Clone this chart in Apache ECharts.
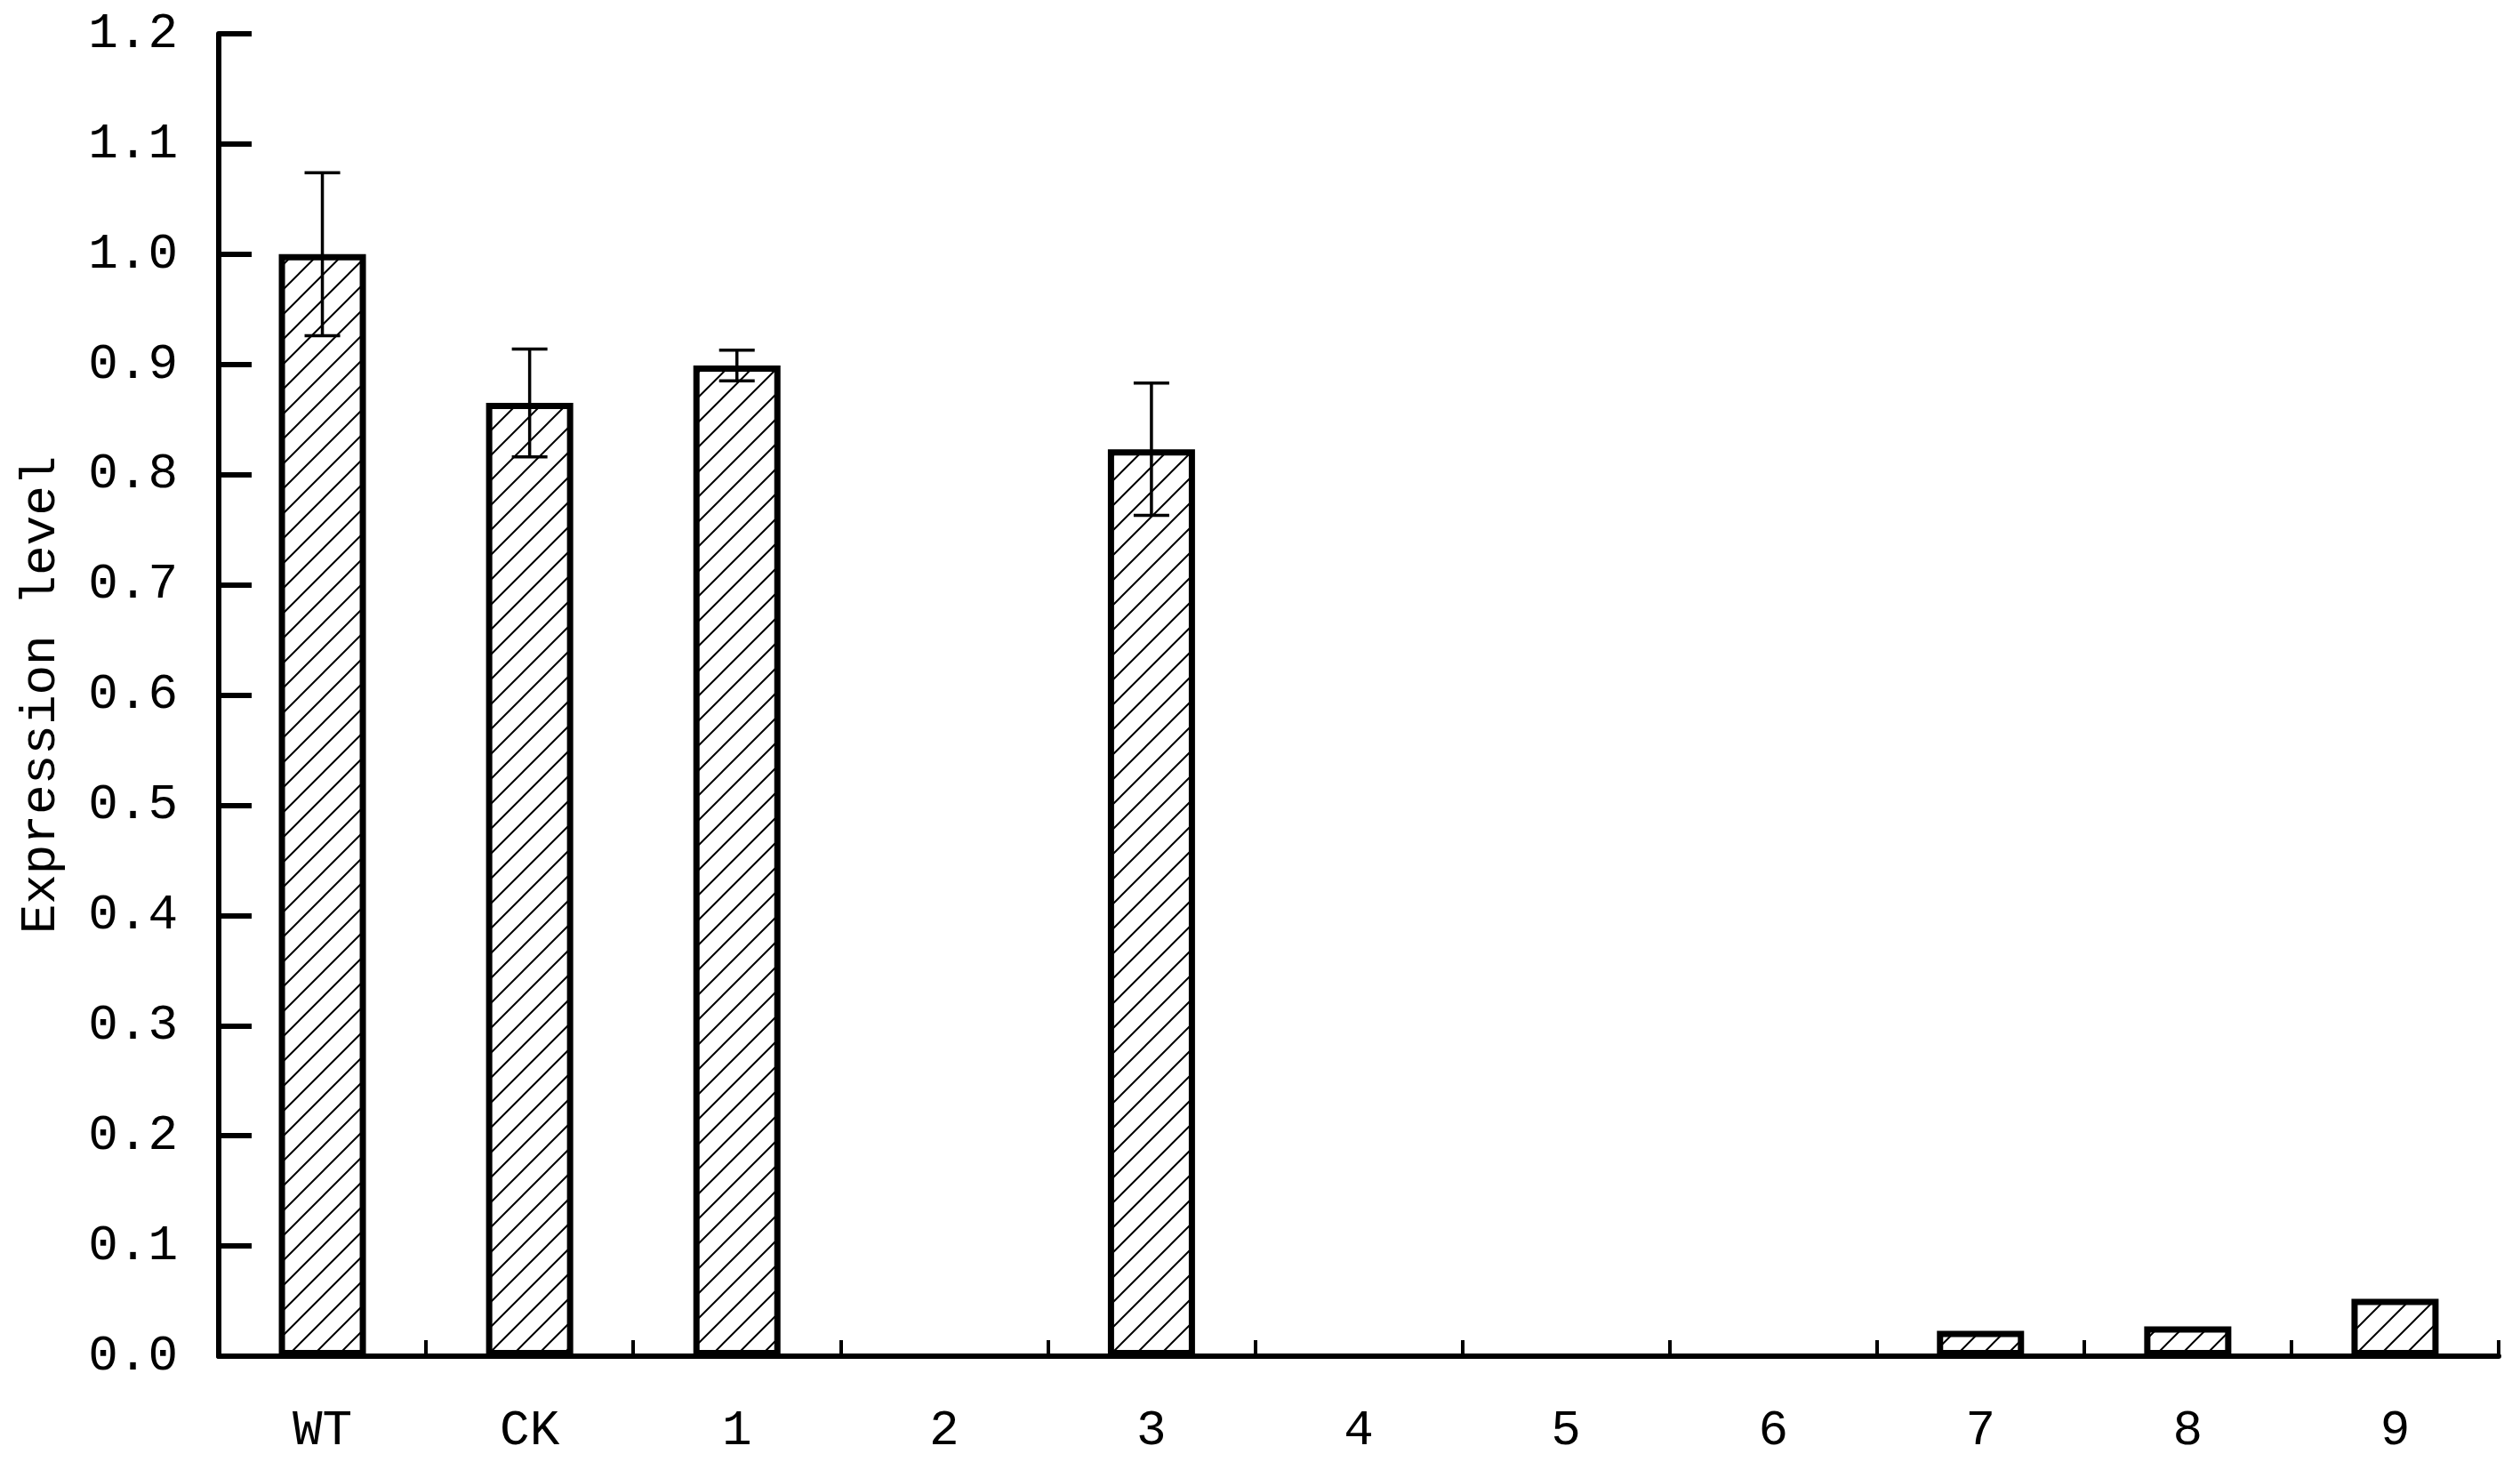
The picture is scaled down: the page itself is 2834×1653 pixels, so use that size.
<!DOCTYPE html>
<html>
<head>
<meta charset="utf-8">
<script src="https://cdn.jsdelivr.net/npm/echarts@6/dist/echarts.min.js"></script>
<style>
  html, body { margin: 0; padding: 0; background: #fff; }
  #chart { width: 2834px; height: 1653px; }
</style>
</head>
<body>
<div id="chart"></div>
<script>
const categories = ["WT", "CK", "1", "2", "3", "4", "5", "6", "7", "8", "9"];
const expression = [1.0, 0.865, 0.899, 0, 0.823, 0, 0, 0, 0.023, 0.027, 0.052];
const errors = [0.074, 0.049, 0.014, 0, 0.06, 0, 0, 0, 0, 0, 0];
const yTicks = [0, 1.2, 0.1];

const labelFont = "Liberation Mono";

// diagonal hatch used as bar fill
const makeHatch = () => {
  const size = 28;
  const c = document.createElement("canvas");
  c.width = size;
  c.height = size;
  const ctx = c.getContext("2d");
  ctx.fillStyle = "#fff";
  ctx.fillRect(0, 0, size, size);
  ctx.strokeStyle = "#000";
  ctx.lineWidth = 2;
  ctx.beginPath();
  ctx.moveTo(0, size);
  ctx.lineTo(size, 0);
  ctx.moveTo(-size / 2, size / 2);
  ctx.lineTo(size / 2, -size / 2);
  ctx.moveTo(size / 2, size * 1.5);
  ctx.lineTo(size * 1.5, size / 2);
  ctx.stroke();
  return c;
};

// zero values leave no mark at all in the original figure
const barData = expression.map(v => (v === 0 ? "-" : v));

const errData = expression
  .map((v, i) => [i, v - errors[i], v + errors[i], errors[i]])
  .filter(d => d[3] > 0);

const renderErr = (params, api) => {
  const x = api.value(0);
  const lo = api.coord([x, api.value(1)]);
  const hi = api.coord([x, api.value(2)]);
  const half = 20;
  const style = { stroke: "#000", lineWidth: 3.5 };
  return {
    type: "group",
    children: [
      { type: "line", shape: { x1: hi[0], y1: hi[1], x2: lo[0], y2: lo[1] }, style: style },
      { type: "line", shape: { x1: hi[0] - half, y1: hi[1], x2: hi[0] + half, y2: hi[1] }, style: style },
      { type: "line", shape: { x1: lo[0] - half, y1: lo[1], x2: lo[0] + half, y2: lo[1] }, style: style }
    ]
  };
};

const chart = echarts.init(document.getElementById("chart"), null, { renderer: "canvas" });
chart.setOption({
  backgroundColor: "#fff",
  animation: false,
  grid: { left: 246, right: 24, top: 38, bottom: 128 },
  xAxis: {
    type: "category",
    data: categories,
    axisLine: { lineStyle: { color: "#000", width: 6 } },
    axisTick: { show: true, inside: true, length: 18, interval: 0, lineStyle: { color: "#000", width: 4 } },
    axisLabel: { margin: 56, fontFamily: labelFont, fontSize: 56, color: "#000" },
    splitLine: { show: false }
  },
  yAxis: {
    type: "value",
    min: yTicks[0],
    max: yTicks[1],
    interval: yTicks[2],
    name: "Expression level",
    nameLocation: "middle",
    nameGap: 172,
    nameTextStyle: { fontFamily: labelFont, fontSize: 56, color: "#000" },
    axisLine: { show: true, lineStyle: { color: "#000", width: 6 } },
    axisTick: { show: true, inside: true, length: 37, lineStyle: { color: "#000", width: 6 } },
    axisLabel: { margin: 46, fontFamily: labelFont, fontSize: 56, color: "#000", formatter: v => v.toFixed(1) },
    splitLine: { show: false }
  },
  series: [
    {
      type: "bar",
      data: barData,
      barWidth: 98,
      itemStyle: {
        color: { image: makeHatch(), repeat: "repeat" },
        borderColor: "#000",
        borderWidth: 7
      },
      z: 2
    },
    {
      type: "custom",
      data: errData,
      renderItem: renderErr,
      z: 10
    }
  ]
});
</script>
</body>
</html>
